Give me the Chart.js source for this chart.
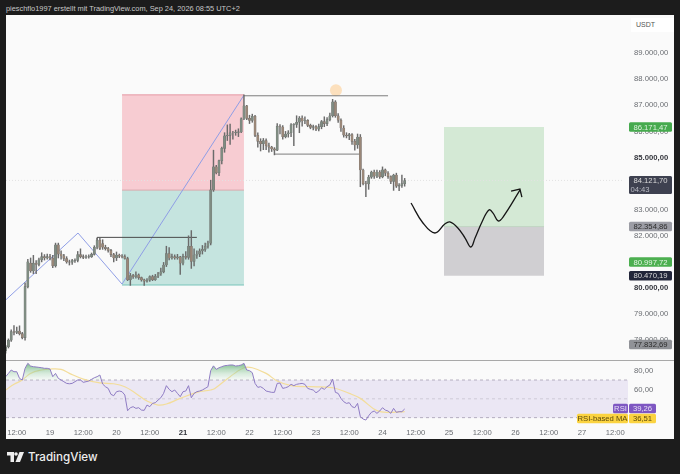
<!DOCTYPE html>
<html lang="de">

<head>
    <meta charset="UTF-8">
    <title>BTC USDT TradingView</title>
    <script src="https://cdn.jsdelivr.net/npm/chart.js"></script>
    <style>
        html, body { margin: 0; padding: 0; background: #1c1c1c; overflow: hidden; }
        body { width: 680px; height: 474px; position: relative; font-family: "Liberation Sans", sans-serif; }
        #titel { position: absolute; left: 6px; top: 3px; font-size: 7.4px; line-height: 12px; color: #c9c9c9; white-space: nowrap; }
        #rahmen { position: absolute; left: 6px; top: 15px; width: 668px; height: 424px; background: #fafafa; }
        #linie { position: absolute; left: 6px; top: 359.5px; width: 668px; height: 1.5px; background: #a8a8a8; }
        #usdt { position: absolute; left: 631px; top: 18px; width: 43px; height: 14px; background: #fff; font-size: 7px; line-height: 14px; color: #555; text-indent: 5px; }
        #haupt { position: absolute; left: 6px; top: 15px; }
        #rsi { position: absolute; left: 6px; top: 361px; }
        #logo { position: absolute; left: 7px; top: 449px; color: #eee; font-family: Inter, sans-serif; font-size: 11.6px; font-weight: 500; line-height: 16px; display: flex; align-items: center; gap: 4px; }
    </style>
</head>

<body>
    <div id="titel">pieschflo1997 erstellt mit TradingView.com, Sep 24, 2026 08:55 UTC+2</div>
    <div id="rahmen"></div>
    <canvas id="haupt" width="668" height="345"></canvas>
    <canvas id="rsi" width="668" height="78"></canvas>
    <div id="linie"></div>
    <div id="usdt">USDT</div>
    <div id="logo">
        <svg width="17" height="10" viewBox="0 0 17 10"><path d="M0 0h7v10H3.500V3.500H0z" fill="#eee"/><circle cx="9" cy="2" r="1.800" fill="#eee"/><path d="M12.500 0H17l-4 10H8.500z" fill="#eee"/></svg>
        <span>TradingView</span>
    </div>

    <script>
        // Hourly candles, hour 0 = Sep 19 00:00
        const firstHour = -16;
        const opens = [
            77600, 77750, 78000, 78330, 78300, 78350, 78250, 78100, 80050, 80950, 80650, 80950, 80900, 81080, 81200, 81150,
            81200, 81140, 80850, 81650, 81300, 81230, 81130, 81000, 80990, 81050, 81060, 81280, 81200, 81170, 81190, 81200, 81290, 81560, 81830, 81700,
            81560, 81510, 81440, 81280, 81150, 81260, 81220, 81200, 81130, 80320, 80480, 80430, 80500, 80400, 80310, 80260, 80300, 80440, 80320, 80450,
            80540, 80620, 80880, 81320, 81150, 81200, 81150, 81190, 80950, 81210, 81170, 81600, 81020, 81260, 81300, 81420, 81480, 81600,
            81720, 83760, 84640, 84420, 84880, 85350, 85830, 85850, 85950, 85950, 85960, 85980, 86480, 86980, 86500, 86420, 86580, 85850, 85620, 85530, 85650, 85450, 85400, 85330, 85280, 86200, 86170, 85800, 85900, 85950, 86250, 86270, 86350, 86510, 86400, 86420, 86230, 86150, 86180, 86090, 86180, 86380, 86300, 86450, 86600, 87130, 86600,
            86430, 86130, 85860, 85830, 85880, 85620, 85480, 85780, 84520, 84000, 83990, 84250, 84440, 84280, 84440, 84260, 84530, 84400, 84270, 84080, 84330, 83900, 83930, 84000
        ];
        const closes = [
            77750, 78000, 78330, 78300, 78350, 78250, 78100, 80050, 81000, 80650, 80950, 80900, 81080, 81200, 81150, 81200,
            81140, 80850, 81650, 81300, 81230, 81130, 81000, 80990, 81050, 81060, 81280, 81200, 81170, 81190, 81200, 81290, 81560, 81830, 81520, 81560,
            81510, 81440, 81280, 81150, 81260, 81220, 81200, 81130, 80320, 80480, 80430, 80500, 80400, 80310, 80260, 80300, 80440, 80320, 80450, 80540,
            80620, 80880, 81320, 81150, 81200, 81150, 81190, 80950, 81210, 81170, 81600, 81020, 81260, 81300, 81420, 81480, 81600, 81720,
            83760, 84640, 84420, 84880, 85350, 85830, 85850, 85950, 85950, 85960, 85980, 86480, 86980, 86500, 86420, 86580, 85850, 85620, 85530, 85650, 85450, 85400, 85330, 85280, 86200, 86170, 85800, 85900, 85950, 86250, 86270, 86350, 86510, 86400, 86420, 86230, 86150, 86180, 86090, 86180, 86380, 86300, 86450, 86600, 87130, 86600, 86430,
            86130, 85860, 85830, 85880, 85620, 85480, 85780, 84520, 84000, 83990, 84250, 84440, 84280, 84440, 84260, 84530, 84400, 84270, 84080, 84330, 83900, 83930, 84000, 84120
        ];
        const highs = [
            77800, 78050, 78400, 78560, 78500, 78550, 78300, 80200, 81100, 81150, 81250, 81050, 81150, 81350, 81280, 81300,
            81290, 81250, 81720, 81720, 81420, 81290, 81200, 81070, 81100, 81120, 81400, 81500, 81270, 81260, 81270, 81340, 81620, 81900, 81900, 81850,
            81640, 81560, 81480, 81330, 81380, 81300, 81280, 81270, 81180, 80560, 80520, 80620, 80540, 80420, 80340, 80360, 80470, 80490, 80520, 80600,
            80760, 80980, 81600, 81550, 81300, 81270, 81290, 81210, 81300, 81400, 82000, 82200, 81500, 81420, 81500, 81630, 81720, 81800,
            84130, 85280, 84700, 84900, 85400, 85950, 86250, 86280, 86000, 86050, 86100, 86520, 87400, 87000, 86620, 86660, 86620, 85950, 85720, 85730, 85720, 85550, 85430, 85380, 86300, 86260, 86220, 86000, 86030, 86300, 86300, 86600, 86570, 86600, 86560, 86450, 86280, 86240, 86220, 86280, 86420, 86560, 86530, 86700, 87230, 87180, 86680,
            86480, 86220, 85950, 85930, 85920, 85700, 85900, 85880, 84560, 84090, 84320, 84480, 84520, 84520, 84500, 84640, 84560, 84460, 84300, 84360, 84400, 84000, 84330, 84200
        ];
        const lows = [
            77500, 77700, 77950, 78200, 78250, 78200, 78050, 78000, 80000, 80600, 80550, 80550, 80850, 81000, 81070, 81100,
            81080, 80780, 80800, 81150, 81100, 81050, 80950, 80880, 80900, 80980, 81000, 81150, 81120, 81130, 81140, 81170, 81260, 81500, 81470, 81480,
            81450, 81370, 81200, 81000, 81050, 81160, 81150, 81100, 80280, 80100, 80370, 80380, 80330, 80260, 80100, 80220, 80250, 80280, 80290, 80400,
            80480, 80580, 80820, 81080, 81100, 81100, 81100, 80520, 80880, 81100, 81100, 80750, 80850, 81130, 81200, 81300, 81400, 81530,
            81650, 83700, 84370, 84300, 84750, 85200, 85650, 85500, 85700, 85850, 85800, 85950, 86450, 86450, 86300, 86350, 85800, 85400, 85250, 85300, 85300, 85200, 85230, 85100, 85260, 85900, 85700, 85750, 85780, 85800, 85450, 86150, 85950, 86200, 86300, 86180, 86100, 86060, 86030, 86020, 86100, 86180, 86220, 86400, 86550, 86540, 86340,
            86000, 85780, 85750, 85680, 85500, 85280, 85350, 83880, 83950, 83500, 83780, 84200, 84200, 84230, 84200, 84220, 84300, 84200, 84000, 83740, 83850, 83730, 83850, 83900
        ];

        // RSI per hour, same hours as the candles
        const rsiValues = [
            73.5, 77, 80.6, 78.8, 78.8, 71.7, 70, 82.4, 87.7, 84.8, 84.1, 83.8, 83.4, 83, 82.4, 82.4,
            81.6, 73.5, 77, 71.7, 70, 68.2, 66.4, 66, 66.4, 68.2, 70, 70, 67.5, 68.2, 68.9, 70.7, 72.4, 73.5, 75.3, 65.7,
            62.9, 61.1, 54.8, 53.3, 57.6, 58.3, 57.6, 54.1, 37.4, 40.6, 41.7, 39.9, 40.6, 38.1, 37.8, 43.4, 41.7, 45.2, 45.9, 48.7,
            51.2, 55.8, 64, 60.1, 57.6, 59.4, 55.8, 52.3, 57.6, 58.3, 64, 51.2, 55.8, 57.6, 58.3, 59.4, 61.1, 62.9,
            80, 85, 81.3, 83, 84.1, 85.2, 85.5, 85.9, 85.9, 84.8, 85.2, 85.9, 87.7, 80.6, 79.9, 77.8, 66.4, 62.2, 62.9, 61.1, 58.3, 57.6, 56.9, 56.9, 66.4, 66.8, 61.1, 61.8, 62.9, 65.4, 64, 65.4, 66, 66.4, 65.4, 61.1, 60.1, 59.4, 56.5, 58.3, 61.8, 60.1, 62.9, 64.7, 71, 56.9, 55.8,
            50.5, 47, 45.2, 45.9, 41.7, 40.6, 45.2, 31.1, 28.6, 27.5, 32.1, 35.7, 37.1, 34.6, 37.1, 40.6, 38.1, 37.1, 34.6, 39.9, 35.7, 36.4, 36.4, 39.26
        ];
        const maHours = [-16, -13, -10, -7, -3, 0, 4, 7, 12, 18, 23, 27, 31, 35, 39, 42, 47, 53, 58, 59.5, 65, 70, 73, 78, 82, 87, 94, 102, 108, 112, 118, 123, 128];
        const maValues = [59.4, 65.4, 70, 77, 80.6, 81.6, 81.3, 77, 71, 67, 66, 62.9, 55.8, 47.7, 43.4, 44.5, 50.5, 56.9, 59.4, 61, 73.5, 83, 83, 77, 68.9, 64, 62.9, 61.8, 55.8, 50.5, 37.5, 35.7, 36.51];

        // Axis ticks
        const priceTicks = [78000, 79000, 80000, 82000, 83000, 85000, 86000, 87000, 88000, 89000];
        const boldPrices = [80000, 85000];
        const rsiTicks = [60, 80];
        const timeHours = [-12, 0, 12, 24, 36, 48, 60, 72, 84, 96, 108, 120, 132, 144, 156, 168, 180, 192, 204];
        const timeLabels = ['12:00', '19', '12:00', '20', '12:00', '21', '12:00', '22', '12:00', '23', '12:00', '24', '12:00', '25', '12:00', '26', '12:00', '27', '12:00'];

        // Drawings on the price pane
        const zigzagHours = [-16, 10.1, 26, 70];
        const zigzagPrices = [79540, 82106, 80150, 87390];
        const leftBoxHours = [26, 70];
        const boxTop = 87400;
        const boxMiddle = 83751;
        const boxBottom = 80115;
        const rightBoxHours = [142.2, 178.3];
        const targetTop = 86171.47;
        const targetEntry = 82354.86;
        const targetStop = 80470.19;
        const topLineHours = [70, 122];
        const topLinePrice = 87365;
        const midLineHours = [81, 112];
        const midLinePrice = 85130;
        const smallLineHours = [17, 17, 53];
        const smallLinePrices = [81650, 81940, 81940];
        const dotHour = 103.2;
        const dotPrice = 87580;
        const curveHours = [130.3, 134.6, 138.9, 142.5, 144.3, 147.2, 149.8, 151.9, 153.4, 155.9, 158.4, 159.9, 161.7, 163.5, 169.6];
        const curvePrices = [83255, 82490, 82107, 82450, 82530, 82300, 81915, 81570, 81915, 82530, 82990, 82870, 82570, 82720, 83750];
        const arrowHours = [166.4, 169.6, 170.3];
        const arrowPrices = [83715, 83790, 83485];
        const lastPrice = 84121.70;

        // Price tags on the right
        const tagPrices = [86171.47, 84121.70, 82354.86, 80997.72, 80470.19, 77832.69];
        const tagTexts = ['86.171,47', '84.121,70', '82.354,86', '80.997,72', '80.470,19', '77.832,69'];
        const tagFills = ['#46aa4e', '#3e4150', '#9c9da5', '#4caf50', '#22263a', '#909297'];
        const tagInks = ['#dff2df', '#dcdcdc', '#2b2b2b', '#e6f5e6', '#d8d8d8', '#2b2b2b'];

        const minHour = -15.88;
        const maxHour = 208.6;

        const candleHour = i => firstHour + i;
        const toPoints = (xs, ys) => xs.map((x, i) => ({ x: x, y: ys[i] }));
        const fmt = v => v.toLocaleString('de-DE', { minimumFractionDigits: 2, maximumFractionDigits: 2 });

        // Axes must not push the plot area inwards for their labels
        function noPadding(s) {
            s.paddingTop = 0;
            s.paddingBottom = 0;
            s.paddingLeft = 0;
            s.paddingRight = 0;
        }

        function lineSet(xs, ys, color, width, order, extra) {
            return Object.assign({
                type: 'line',
                data: toPoints(xs, ys),
                borderColor: color,
                borderWidth: width,
                pointRadius: 0,
                fill: false,
                tension: 0,
                order: order
            }, extra || {});
        }

        function boxSet(xs, top, bottom, fillColor, order) {
            return lineSet(xs, [top, top], 'transparent', 0, order, {
                fill: { target: { value: bottom } },
                backgroundColor: fillColor
            });
        }

        function drawTag(ctx, x, w, yMid, h, fillColor) {
            ctx.fillStyle = fillColor;
            ctx.beginPath();
            ctx.roundRect(x, yMid - h / 2, w, h, 1.5);
            ctx.fill();
        }

        const priceTags = {
            id: 'priceTags',
            afterDraw(chart) {
                const ctx = chart.ctx;
                const y = chart.scales.y;
                const x0 = chart.chartArea.right + 1;
                ctx.save();
                ctx.font = '7.7px "Liberation Sans", sans-serif';
                ctx.textAlign = 'center';
                ctx.textBaseline = 'middle';
                tagPrices.forEach((p, i) => {
                    const py = y.getPixelForValue(p);
                    const isLast = p === lastPrice;
                    drawTag(ctx, x0, 43, isLast ? py + 4.5 : py, isLast ? 18 : 9.5, tagFills[i]);
                    ctx.fillStyle = tagInks[i];
                    ctx.fillText(tagTexts[i], x0 + 21.5, py + 0.5);
                    if (isLast) {
                        ctx.fillStyle = '#b9bbc4';
                        ctx.fillText('04:43', x0 + 11, py + 9);
                    }
                });
                ctx.restore();
            }
        };

        const rsiTags = {
            id: 'rsiTags',
            afterDraw(chart) {
                const ctx = chart.ctx;
                const y = chart.scales.y;
                const right = chart.chartArea.right;
                const yRsi = y.getPixelForValue(rsiValues[rsiValues.length - 1]) - 0.5;
                const yMa = y.getPixelForValue(maValues[maValues.length - 1]) + 7;
                ctx.save();
                ctx.font = '7.7px "Liberation Sans", sans-serif';
                ctx.textBaseline = 'middle';
                ctx.textAlign = 'center';
                drawTag(ctx, right - 15, 15, yRsi, 9.5, '#7e57c2');
                drawTag(ctx, right + 1, 27, yRsi, 9.5, '#7e57c2');
                drawTag(ctx, right - 51, 51, yMa, 9.5, '#fbd340');
                drawTag(ctx, right + 1, 27, yMa, 9.5, '#fbd340');
                ctx.fillStyle = '#e6def5';
                ctx.fillText('RSI', right - 7.5, yRsi + 0.5);
                ctx.fillText(fmt(rsiValues[rsiValues.length - 1]), right + 14.5, yRsi + 0.5);
                ctx.fillStyle = '#5c4a0c';
                ctx.fillText('RSI-based MA', right - 25.5, yMa + 0.5);
                ctx.fillText(fmt(maValues[maValues.length - 1]), right + 14.5, yMa + 0.5);
                ctx.restore();
            }
        };

        const fontFamily = '"Liberation Sans", sans-serif';
        const noExtras = { legend: { display: false }, tooltip: { enabled: false } };
        const isBoldPrice = c => !!c.tick && boldPrices.includes(c.tick.value);
        const isBoldTime = c => timeLabels[c.index] === '21';

        // Price pane
        new Chart(document.getElementById('haupt'), {
            type: 'bar',
            data: {
                datasets: [
                    boxSet(leftBoxHours, boxTop, boxMiddle, '#f7ccd2', 20),
                    boxSet(leftBoxHours, boxMiddle, boxBottom, '#c5e4df', 20),
                    boxSet(rightBoxHours, targetTop, targetEntry, '#d4e9d5', 20),
                    boxSet(rightBoxHours, targetEntry, targetStop, '#d0cfd2', 20),
                    lineSet(leftBoxHours, [boxTop, boxTop], '#e59aa5', 1, 19),
                    lineSet(leftBoxHours, [boxMiddle, boxMiddle], '#dba9ad', 1, 19),
                    lineSet(leftBoxHours, [boxBottom, boxBottom], '#79c3b9', 1.2, 19),
                    lineSet(rightBoxHours, [targetEntry, targetEntry], '#c2d6c4', 1, 19),
                    lineSet([minHour, maxHour - 2], [lastPrice, lastPrice], '#e2e2e2', 1, 18, { borderDash: [1, 2] }),
                    lineSet(zigzagHours, zigzagPrices, '#8f9ee6', 1, 17),
                    lineSet(topLineHours, [topLinePrice, topLinePrice], '#7d7d7d', 1, 16),
                    lineSet(midLineHours, [midLinePrice, midLinePrice], '#7d7d7d', 1, 16),
                    lineSet(smallLineHours, smallLinePrices, '#4a4a4a', 1, 16),
                    lineSet([dotHour], [dotPrice], 'transparent', 0, 16, { pointRadius: 6, pointBackgroundColor: '#fce0bd', pointBorderWidth: 0 }),
                    {
                        type: 'bar',
                        data: lows.map((l, i) => ({ x: candleHour(i), y: [l, highs[i]] })),
                        backgroundColor: '#6b6b6b',
                        barThickness: 0.8,
                        grouped: false,
                        order: 5
                    },
                    {
                        type: 'bar',
                        data: opens.map((o, i) => ({ x: candleHour(i), y: [o, closes[i]] })),
                        backgroundColor: opens.map((o, i) => closes[i] >= o ? '#7f8c82' : '#9a8778'),
                        borderColor: '#6a6a6a',
                        borderWidth: 0.3,
                        borderSkipped: false,
                        barThickness: 2.2,
                        grouped: false,
                        order: 4
                    },
                    lineSet(curveHours, curvePrices, '#161616', 1.3, 2, { tension: 0.4 }),
                    lineSet(arrowHours, arrowPrices, '#161616', 1.3, 2)
                ]
            },
            options: {
                responsive: false,
                animation: false,
                events: [],
                layout: { padding: 0, autoPadding: false },
                plugins: noExtras,
                scales: {
                    x: { type: 'linear', display: false, offset: false, min: minHour, max: maxHour, grid: { display: false } },
                    y: {
                        position: 'right',
                        min: 77241,
                        max: 90460,
                        grid: { display: false, drawTicks: false },
                        border: { display: false },
                        afterFit: s => { s.width = 46; noPadding(s); },
                        afterBuildTicks: s => { s.ticks = priceTicks.map(v => ({ value: v })); },
                        ticks: {
                            padding: 6,
                            autoSkip: false,
                            callback: v => fmt(v),
                            color: c => isBoldPrice(c) ? '#33353c' : '#6a6d72',
                            font: c => ({
                                family: fontFamily,
                                size: 7.7,
                                weight: isBoldPrice(c) ? '700' : '400'
                            })
                        }
                    }
                }
            },
            plugins: [priceTags]
        });

        // RSI pane
        const rsiCtx = document.getElementById('rsi').getContext('2d');
        const greenFade = rsiCtx.createLinearGradient(0, 4, 0, 19);
        greenFade.addColorStop(0, 'rgba(105, 180, 120, 0.75)');
        greenFade.addColorStop(1, 'rgba(205, 235, 215, 0.15)');

        new Chart(rsiCtx, {
            type: 'line',
            data: {
                datasets: [
                    lineSet([minHour, maxHour], [70, 70], 'transparent', 0, 10, {
                        fill: { target: { value: 30 } },
                        backgroundColor: '#ebe7f4'
                    }),
                    lineSet([minHour, maxHour], [70, 70], '#a59eb2', 0.8, 9, { borderDash: [3, 3] }),
                    lineSet([minHour, maxHour], [50, 50], '#c7c3cf', 0.8, 9, { borderDash: [3, 3] }),
                    lineSet([minHour, maxHour], [30, 30], '#a59eb2', 0.8, 9, { borderDash: [3, 3] }),
                    lineSet(maHours, maValues, '#f3dd9a', 1.2, 3, { tension: 0.4 }),
                    lineSet(rsiValues.map((v, i) => candleHour(i)), rsiValues, '#8f7cc4', 1, 2, {
                        fill: { target: { value: 70 }, above: greenFade, below: 'transparent' }
                    })
                ]
            },
            options: {
                responsive: false,
                animation: false,
                events: [],
                layout: { padding: 0, autoPadding: false },
                plugins: noExtras,
                scales: {
                    x: {
                        type: 'linear',
                        position: 'bottom',
                        min: minHour,
                        max: maxHour,
                        grid: { display: false, drawTicks: false },
                        border: { display: false },
                        afterFit: s => { s.height = 14; noPadding(s); },
                        afterBuildTicks: s => { s.ticks = timeHours.map(v => ({ value: v })); },
                        ticks: {
                            padding: 3,
                            autoSkip: false,
                            maxRotation: 0,
                            callback: v => timeLabels[timeHours.indexOf(v)],
                            color: c => isBoldTime(c) ? '#33353c' : '#6a6d72',
                            font: c => ({
                                family: fontFamily,
                                size: 7.7,
                                weight: isBoldTime(c) ? '700' : '400'
                            })
                        }
                    },
                    y: {
                        position: 'right',
                        min: 22.26,
                        max: 90.16,
                        grid: { display: false, drawTicks: false },
                        border: { display: false },
                        afterFit: s => { s.width = 46; noPadding(s); },
                        afterBuildTicks: s => { s.ticks = rsiTicks.map(v => ({ value: v })); },
                        ticks: {
                            padding: 6,
                            autoSkip: false,
                            callback: v => fmt(v),
                            color: '#6a6d72',
                            font: { family: fontFamily, size: 7.7 }
                        }
                    }
                }
            },
            plugins: [rsiTags]
        });
    </script>
</body>

</html>
